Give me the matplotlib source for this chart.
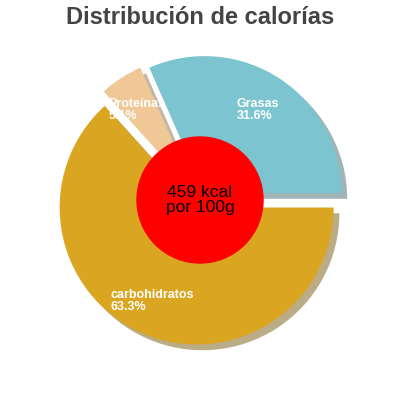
import matplotlib
matplotlib.use("Agg")
import matplotlib.pyplot as plt
import numpy as np

plt.rcParams['font.family'] = ['Liberation Sans', 'DejaVu Sans']

labels = ["Grasas", "Proteínas", "carbohidratos"]
values = [31.6, 5.1, 63.3]
colors = ["#7cc4cf", "#f0c896", "#daa520"]
center_text = "459 kcal\npor 100g"
title = "Distribución de calorías"

fig = plt.figure(figsize=(4, 4), dpi=100)
ax = fig.add_axes([0, 0, 1, 1])
lim = 200 / 137
ax.set_aspect("equal")
ax.axis("off")

explode = [0.06] * len(values)
wedges, _ = ax.pie(values, colors=colors, startangle=0, counterclock=True,
                   explode=explode, shadow={'ox': 0.03, 'oy': -0.03, 'shade': 0.45},
                   wedgeprops=dict(linewidth=0))
ax.set_xlim(-lim, lim)
ax.set_ylim(-lim, lim)

ax.add_patch(plt.Circle((0, 0), 0.46, color="red", zorder=5))
ax.text(0, 0, center_text, ha="center", va="center", fontsize=12.5, zorder=6,
        linespacing=1.0)

pos = {"Grasas": (0.27, 0.66), "Proteínas": (-0.67, 0.66), "carbohidratos": (-0.65, -0.74)}
for lab, v in zip(labels, values):
    x, y = pos[lab]
    ax.text(x, y, f"{lab}\n{v}%", color="white", fontsize=9, fontweight="bold",
            ha="left", va="center", zorder=7, linespacing=1.0)

fig.text(0.5, 0.955, title, ha="center", va="center", fontsize=17,
         fontweight="bold", color="#444444")
fig.savefig("out.png")
